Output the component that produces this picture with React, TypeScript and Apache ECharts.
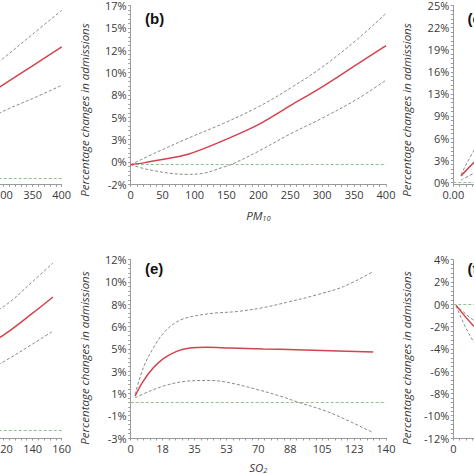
import React, { useEffect, useRef } from "react";
import * as echarts from "echarts";

// ---------- data ----------
// (a) left, partly visible, x 0–400
const aX = [0, 50, 100, 150, 200, 250, 300, 350, 400];
const aMid = [0, 1.5, 3.5, 6.0, 8.8, 11.8, 14.8, 17.8, 20.8];
const aUp = [0, 3.0, 6.0, 9.0, 12.0, 15.3, 19.0, 22.8, 26.6];
const aLo = [0, 0, 1.0, 3.0, 5.5, 8.0, 10.6, 12.6, 14.7];
const aXTicks = [0, 50, 100, 150, 200, 250, 300, 350, 400];
const aYTicks = [0, 5, 10, 15, 20, 25];

// (b) PM10
const bMidX = [0, 20, 40, 90, 145, 200, 250, 300, 355, 400];
const bMid = [0, 0.2, 0.45, 1.13, 2.59, 4.3, 6.34, 8.37, 10.8, 12.78];
const bUpX = [0, 40, 90, 145, 200, 250, 300, 355, 400];
const bUp = [0, 1.32, 2.85, 4.43, 6.22, 8.22, 10.48, 13.47, 16.25];
const bLoX = [0, 20, 40, 60, 85, 110, 145, 160, 200, 250, 300, 355, 400];
const bLo = [0, -0.4, -0.68, -0.9, -1.03, -0.96, -0.26, 0.1, 1.44, 3.31, 5.0, 7.06, 9.08];
const bXTicks = [0, 50, 100, 150, 200, 250, 300, 350, 400];
const bYTicks = [-2.1, 0.3, 2.7, 5.1, 7.5, 9.9, 12.3, 14.7, 17.1];

// (c) right, partly visible
const cX = [0.012, 0.033, 0.06, 0.1, 0.15, 0.2, 0.3, 0.4];
const cMid = [0.87, 2.86, 5.0, 7.5, 9.5, 11.0, 13.0, 14.5];
const cUp = [1.07, 4.61, 8.0, 11.5, 14.5, 17.0, 20.5, 23.5];
const cLo = [0.27, 1.29, 2.2, 3.5, 4.8, 5.6, 6.5, 6.8];
const cXTicks = [0, 0.05, 0.1, 0.15, 0.2, 0.25, 0.3, 0.35, 0.4];
const cYTicks = [0, 3.15, 6.3, 9.45, 12.6, 15.75, 18.9, 22.05, 25.2];

// (d) left, partly visible, x 0–160
const dX = [2, 20, 40, 60, 80, 100, 120, 140, 154];
const dMid = [0.3, 2.2, 4.2, 6.2, 8.0, 9.8, 11.7, 14.4, 16.4];
const dUp = [0.5, 4, 7, 9.5, 11.5, 13.5, 15.2, 18.3, 20.6];
const dLo = [0.1, 0.5, 1.5, 3.0, 4.5, 6.5, 8.4, 10.6, 12.2];
const dXTicks = [0, 20, 40, 60, 80, 100, 120, 140, 160];
const dYTicks = [0, 5, 10, 15, 20];

// (e) SO2
const eMidX = [2.4, 6.9, 12.4, 17.9, 25.2, 32.5, 41.7, 54.4, 72.7, 91, 109.3, 133];
const eMid = [0.53, 1.78, 2.9, 3.68, 4.29, 4.57, 4.63, 4.57, 4.49, 4.43, 4.35, 4.23];
const eUpX = [2.4, 6.9, 12.4, 17.9, 23.4, 28.9, 36.2, 45.4, 58.2, 72.7, 87.4, 102, 116.6, 133];
const eUp = [0.67, 2.9, 4.57, 5.82, 6.58, 7.03, 7.3, 7.5, 7.64, 7.97, 8.48, 9.04, 9.73, 11.0];
const eLoX = [2.4, 10.6, 19.7, 30.7, 43.5, 54.4, 69.1, 81.9, 91, 109.3, 133];
const eLo = [0.38, 0.95, 1.45, 1.78, 1.84, 1.64, 1.09, 0.53, 0.05, -0.87, -2.55];
const eXTicks = [0, 17.5, 35, 52.5, 70, 87.5, 105, 122.5, 140];
const eYTicks = [-3, -1.125, 0.75, 2.625, 4.5, 6.375, 8.25, 10.125, 12];

// (f) right, partly visible
const fX = [1.7, 12.5, 25, 40, 60, 80, 100, 120, 140];
const fMid = [-0.1, -1.9, -3.5, -4.8, -5.8, -6.3, -6.6, -6.8, -7.0];
const fUp = [-0.05, -1.4, -2.2, -2.8, -3.0, -2.8, -2.4, -2.0, -1.5];
const fLo = [-0.15, -3.3, -5.2, -6.8, -8.5, -9.8, -10.8, -11.3, -11.8];
const fXTicks = [0, 20, 40, 60, 80, 100, 120, 140, 160];
const fYTicks = [-12, -10, -8, -6, -4, -2, 0, 2, 4];

const panelLetters = ["(a)", "(b)", "(c)", "(d)", "(e)", "(f)"];
const xTitles = [
  ["PM", "2.5"],
  ["PM", "10"],
  ["NO", "2"],
  ["NO", "2"],
  ["SO", "2"],
  ["CO", ""],
];
const yTitle = "Percentage changes in admissions";

// ---------- layout ----------
const OFFX = 200;
const INNER_W = 940;
const GW = 255.3;
const COL_LEFT = [-193.6, 130.7, 453.3];
const ROW_TOP = [4, 259.7];
const ROW_H = [180.3, 178.3];

const pairs = (xs: number[], ys: number[]) => xs.map((x, i) => [x, ys[i]]);
const withMinor = (ticks: number[], n: number) => {
  const out: number[] = [];
  for (let i = 0; i < ticks.length - 1; i++) {
    for (let k = 0; k < n; k++) out.push(ticks[i] + ((ticks[i + 1] - ticks[i]) * k) / n);
  }
  out.push(ticks[ticks.length - 1]);
  return out;
};

const FONT = '"Open Sans", "Noto Sans", sans-serif';
const LABEL = "#3a3a3a";
const AXIS = "#9a9a9a";
const RED = "#d2434d";
const GRAY = "#8a8a8a";
const GREEN = "#8cc48c";

export default function App() {
  const ref = useRef<HTMLDivElement>(null);
  useEffect(() => {
    if (!ref.current) return;
    const chart = echarts.init(ref.current, undefined, { renderer: "svg" });

    const intF = (v: number) => String(Math.round(v));
    const panels = [
      { mid: pairs(aX, aMid), up: pairs(aX, aUp), lo: pairs(aX, aLo), xt: aXTicks, yt: aYTicks, xmin: 0, xmax: 400, ymin: -1, ymax: 27.6, xf: intF },
      { mid: pairs(bMidX, bMid), up: pairs(bUpX, bUp), lo: pairs(bLoX, bLo), xt: bXTicks, yt: bYTicks, xmin: 0, xmax: 400, ymin: -2.1, ymax: 17.1, xf: intF },
      { mid: pairs(cX, cMid), up: pairs(cX, cUp), lo: pairs(cX, cLo), xt: cXTicks, yt: cYTicks, xmin: 0, xmax: 0.4, ymin: -0.3, ymax: 25.2, xf: (v: number) => v.toFixed(2) },
      { mid: pairs(dX, dMid), up: pairs(dX, dUp), lo: pairs(dX, dLo), xt: dXTicks, yt: dYTicks, xmin: 0, xmax: 160, ymin: -1, ymax: 21, xf: intF },
      { mid: pairs(eMidX, eMid), up: pairs(eUpX, eUp), lo: pairs(eLoX, eLo), xt: eXTicks, yt: eYTicks, xmin: 0, xmax: 140, ymin: -3, ymax: 12, xf: intF },
      { mid: pairs(fX, fMid), up: pairs(fX, fUp), lo: pairs(fX, fLo), xt: fXTicks, yt: fYTicks, xmin: 0, xmax: 160, ymin: -12, ymax: 4, xf: intF },
    ];

    const grid: any[] = [];
    const xAxis: any[] = [];
    const yAxis: any[] = [];
    const series: any[] = [];
    const graphic: any[] = [];

    panels.forEach((p, i) => {
      const row = i < 3 ? 0 : 1;
      const col = i % 3;
      const left = COL_LEFT[col] + OFFX;
      const top = ROW_TOP[row];
      const h = ROW_H[row];
      grid.push({ left, top, width: GW, height: h, containLabel: false });
      xAxis.push({
        type: "value",
        gridIndex: i,
        min: p.xmin,
        max: p.xmax,
        splitLine: { show: false },
        axisLine: { show: true, onZero: false, lineStyle: { color: AXIS, width: 1 } },
        axisTick: { show: true, length: 2.5, customValues: withMinor(p.xt, 5), lineStyle: { color: AXIS } },
        axisLabel: { customValues: p.xt, formatter: p.xf, color: LABEL, fontSize: 11, fontFamily: FONT, margin: 5 },
      });
      yAxis.push({
        type: "value",
        gridIndex: i,
        min: p.ymin,
        max: p.ymax,
        splitLine: { show: false },
        axisLine: { show: true, onZero: false, lineStyle: { color: AXIS, width: 1 } },
        axisTick: { show: true, length: 2.5, customValues: withMinor(p.yt, 5), lineStyle: { color: AXIS } },
        axisLabel: { customValues: p.yt, formatter: (v: number) => Math.round(v) + "%", color: LABEL, fontSize: 11, fontFamily: FONT, margin: 4 },
      });
      const base = { type: "line", xAxisIndex: i, yAxisIndex: i, showSymbol: false, smooth: 0.35, silent: true };
      series.push({
        ...base,
        data: p.up,
        lineStyle: { color: GRAY, width: 1, type: [3, 2] },
        z: 3,
        markLine: {
          silent: true,
          symbol: "none",
          label: { show: false },
          lineStyle: { color: GREEN, width: 1, type: [3, 2] },
          data: [{ yAxis: 0 }],
          z: 2,
        },
      });
      series.push({ ...base, data: p.lo, lineStyle: { color: GRAY, width: 1, type: [3, 2] }, z: 3 });
      series.push({ ...base, data: p.mid, lineStyle: { color: RED, width: 1.5 }, z: 4 });

      graphic.push({
        type: "text",
        x: left + 14.3,
        y: row === 0 ? 18.8 : 268,
        style: {
          text: panelLetters[i],
          fill: "#111",
          fontSize: 15,
          fontWeight: "bold",
          fontFamily: '"Liberation Sans", Arial, sans-serif',
          align: "left",
          verticalAlign: "middle",
        },
      });
      graphic.push({
        type: "text",
        x: left - 46.6,
        y: row === 0 ? 110 : 358,
        rotation: Math.PI / 2,
        style: {
          text: yTitle,
          fill: LABEL,
          fontSize: 11.5,
          fontStyle: "italic",
          fontFamily: FONT,
          align: "center",
          verticalAlign: "middle",
        },
      });
      graphic.push({
        type: "text",
        x: left + GW / 2,
        y: row === 0 ? 215 : 467,
        style: {
          text: "{m|" + xTitles[i][0] + "}" + (xTitles[i][1] ? "{s|" + xTitles[i][1] + "}" : ""),
          align: "center",
          verticalAlign: "middle",
          rich: {
            m: { fontSize: 11.5, fontStyle: "italic", fontFamily: FONT, fill: LABEL, lineHeight: 13, verticalAlign: "bottom" },
            s: { fontSize: 7.5, fontStyle: "italic", fontFamily: FONT, fill: LABEL, lineHeight: 9, verticalAlign: "bottom" },
          },
        },
      });
    });

    chart.setOption({
      animation: false,
      backgroundColor: "#ffffff",
      grid,
      xAxis,
      yAxis,
      series,
      graphic,
    });
    return () => chart.dispose();
  }, []);

  return (
    <div style={{ position: "fixed", left: 0, top: 0, width: 474, height: 474, overflow: "hidden", background: "#fff" }}>
      <div ref={ref} style={{ position: "absolute", left: -OFFX, top: 0, width: INNER_W, height: 474 }} />
    </div>
  );
}
